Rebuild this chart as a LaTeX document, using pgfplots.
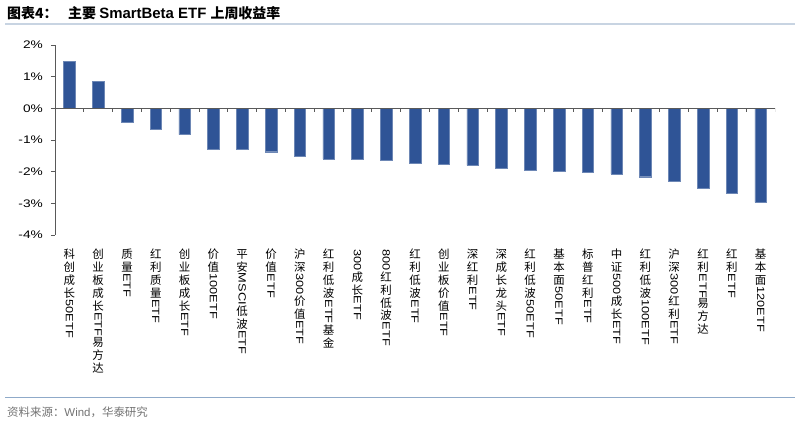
\documentclass[border=0pt]{standalone}
\usepackage{fontspec}
\usepackage{graphicx}
\usepackage{pgfplots}
\pgfplotsset{compat=1.18}
\setmainfont{Liberation Sans}
\newfontfamily\cjk{Noto Sans CJK SC}
\definecolor{barblue}{RGB}{47,84,150}
\definecolor{titleline}{RGB}{200,212,226}
\definecolor{footline}{RGB}{143,170,201}
% Latin run inside a vertical label: turned a quarter clockwise, a bit widened
\newcommand\R[1]{\rotatebox[origin=c]{-90}{\rmfamily\fontsize{10.5}{12}\selectfont\scalebox{1.22}[1]{#1}}}
\newcommand\yl[1]{\scalebox{1.25}[1]{#1}}

\begin{document}
\begin{tikzpicture}
\useasboundingbox (0,0) rectangle (800bp,423bp);

% title and rules
\node[anchor=west,inner sep=0pt] at (7bp,410bp) {\cjk\bfseries\fontsize{14}{16}\selectfont 图表4：};
\node[anchor=west,inner sep=0pt] at (68bp,410bp) {\fontsize{14}{16}\selectfont\cjk\bfseries 主要 \rmfamily\bfseries\fontsize{15}{16}\selectfont SmartBeta ETF \cjk\bfseries\fontsize{14}{16}\selectfont 上周收益率};
\draw[titleline,line width=2bp] (5bp,399bp) -- (795bp,399bp);
\draw[footline,line width=1bp] (5bp,25bp) -- (795bp,25bp);
\node[anchor=west,inner sep=0pt,text=black!55] at (7bp,11bp) {\fontsize{11.5}{13}\selectfont\cjk 资料来源：\rmfamily Wind\cjk ，华泰研究};

\begin{axis}[
  at={(55bp,188bp)},anchor=south west,
  scale only axis,width=720bp,height=190bp,
  ybar,bar width=11.5bp,
  xmin=-0.5,xmax=24.5,ymin=-4,ymax=2,
  axis y line*=left,axis x line*=bottom,
  x axis line style={draw=none},
  y axis line style={draw=black!65,line width=0.8pt},
  xtick=data,major x tick style={draw=none},
  ytick={-4,-3,-2,-1,0,1,2},
  yticklabels={\yl{-4\%},\yl{-3\%},\yl{-2\%},\yl{-1\%},\yl{0\%},\yl{1\%},\yl{2\%}},
  ytick align=outside,major tick length=4bp,
  major y tick style={draw=black!65,line width=0.8pt},
  yticklabel style={anchor=east,inner sep=0pt,xshift=-8bp,font=\fontsize{11}{12}\selectfont},
  xticklabel style={anchor=north,inner sep=0pt,yshift=-10bp,align=center,
    font=\cjk\fontsize{11.5}{13}\selectfont},
  xticklabels={
    {科\\创\\成\\长\\\R{50ETF}},
    {创\\业\\板\\成\\长\\\R{ETF}\\易\\方\\达},
    {质\\量\\\R{ETF}},
    {红\\利\\质\\量\\\R{ETF}},
    {创\\业\\板\\成\\长\\\R{ETF}},
    {价\\值\\\R{100ETF}},
    {平\\安\\\R{MSCI}\\低\\波\\\R{ETF}},
    {价\\值\\\R{ETF}},
    {沪\\深\\\R{300}\\价\\值\\\R{ETF}},
    {红\\利\\低\\波\\\R{ETF}\\基\\金},
    {\R{300}\\成\\长\\\R{ETF}},
    {\R{800}\\红\\利\\低\\波\\\R{ETF}},
    {红\\利\\低\\波\\\R{ETF}},
    {创\\业\\板\\价\\值\\\R{ETF}},
    {深\\红\\利\\\R{ETF}},
    {深\\成\\长\\龙\\头\\\R{ETF}},
    {红\\利\\低\\波\\\R{50ETF}},
    {基\\本\\面\\\R{50ETF}},
    {标\\普\\红\\利\\\R{ETF}},
    {中\\证\\\R{500}\\成\\长\\\R{ETF}},
    {红\\利\\低\\波\\\R{100ETF}},
    {沪\\深\\\R{300}\\红\\利\\\R{ETF}},
    {红\\利\\\R{ETF}\\易\\方\\达},
    {红\\利\\\R{ETF}},
    {基\\本\\面\\\R{120ETF}}
  },
]
\addplot[fill=barblue,draw=barblue!70!white,line width=0.4pt] coordinates {
  (0,1.49) (1,0.86) (2,-0.43) (3,-0.66) (4,-0.83) (5,-1.29) (6,-1.29)
  (7,-1.37) (8,-1.50) (9,-1.60) (10,-1.61) (11,-1.63) (12,-1.73)
  (13,-1.75) (14,-1.80) (15,-1.88) (16,-1.96) (17,-1.98) (18,-2.01)
  (19,-2.07) (20,-2.16) (21,-2.29) (22,-2.52) (23,-2.67) (24,-2.97)
};
\draw[black!65,line width=0.8pt] (axis cs:-0.5,0) -- (axis cs:24.5,0);
\pgfplotsinvokeforeach{-0.5,0.5,...,24.5}{
  \draw[black!65,line width=0.8pt] (axis cs:#1,0) -- ([yshift=-4bp]axis cs:#1,0);
}
\end{axis}
\end{tikzpicture}
\end{document}
